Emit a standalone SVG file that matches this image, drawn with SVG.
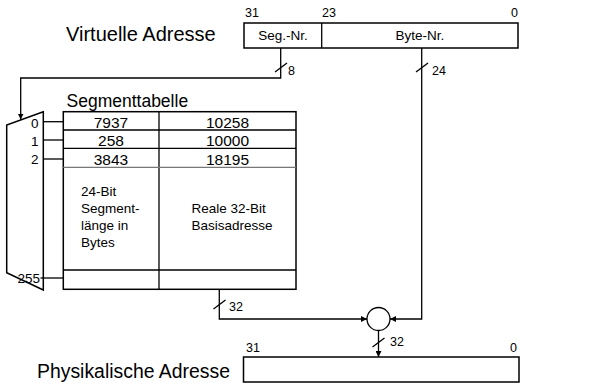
<svg xmlns="http://www.w3.org/2000/svg" width="611" height="385" viewBox="0 0 611 385">
<defs>
<style>
text{font-family:"Liberation Sans",Arial,sans-serif;fill:#000}
.big{font-size:20px}
.mid{font-size:17.5px}
.num{font-size:15.5px}
.sm{font-size:13.5px}
.bit{font-size:12.5px}
.box{fill:#fff;stroke:#000;stroke-width:1.5}
.ln{fill:none;stroke:#000;stroke-width:1.3}
</style>
<marker id="ah" viewBox="0 0 10 10" refX="10" refY="5" markerWidth="6" markerHeight="6" markerUnits="userSpaceOnUse" orient="auto">
<path d="M0,0 L10,5 L0,10 z" fill="#000"/>
</marker>
</defs>
<rect width="611" height="385" fill="#fff"/>

<g id="virt">
<text class="big" x="66" y="41">Virtuelle Adresse</text>
<rect class="box" x="244" y="23" width="274" height="25"/>
<line class="ln" x1="321.7" y1="23" x2="321.7" y2="48"/>
<text class="bit" x="245" y="17">31</text>
<text class="bit" x="322" y="17">23</text>
<text class="bit" x="518" y="17" text-anchor="end">0</text>
<text class="sm" x="283" y="40" text-anchor="middle">Seg.-Nr.</text>
<text class="sm" x="420" y="40" text-anchor="middle">Byte-Nr.</text>
</g>

<g id="mux">
<polygon class="box" points="43.3,111.7 6.7,125 6.7,272.7 43.3,290"/>
<text class="sm" x="38.5" y="127.7" text-anchor="end">0</text>
<text class="sm" x="38.5" y="145.7" text-anchor="end">1</text>
<text class="sm" x="38.5" y="163.5" text-anchor="end">2</text>
<text class="sm" x="40" y="282.5" text-anchor="end">255</text>
</g>

<g id="table">
<text class="mid" x="66.5" y="106.5">Segmenttabelle</text>
<rect class="box" x="63.3" y="111.7" width="232.7" height="177.6"/>
<line class="ln" x1="159" y1="111.7" x2="159" y2="289.3"/>
<line class="ln" x1="63.3" y1="130" x2="296" y2="130"/>
<line class="ln" x1="63.3" y1="148.3" x2="296" y2="148.3"/>
<line x1="63.3" y1="167.3" x2="296" y2="167.3" stroke="#777" stroke-width="1.3"/>
<line class="ln" x1="63.3" y1="270" x2="296" y2="270"/>
<text class="num" x="111" y="127.5" text-anchor="middle">7937</text>
<text class="num" x="227.5" y="127.5" text-anchor="middle">10258</text>
<text class="num" x="111" y="146" text-anchor="middle">258</text>
<text class="num" x="227.5" y="146" text-anchor="middle">10000</text>
<text class="num" x="111" y="165" text-anchor="middle">3843</text>
<text class="num" x="227.5" y="165" text-anchor="middle">18195</text>
<text class="sm" x="81" y="196">24-Bit</text>
<text class="sm" x="81" y="213">Segment-</text>
<text class="sm" x="81" y="230">länge in</text>
<text class="sm" x="81" y="247">Bytes</text>
<text class="sm" x="191.5" y="213">Reale 32-Bit</text>
<text class="sm" x="191.5" y="230">Basisadresse</text>
</g>

<g id="adder">
<circle cx="378.5" cy="319" r="11.5" fill="#fff" stroke="#000" stroke-width="1.3"/>
</g>

<g id="phys">
<text x="37" y="378" style="font-size:19.4px">Physikalische Adresse</text>
<rect class="box" x="243.5" y="357" width="275.5" height="25"/>
<text class="bit" x="246" y="352">31</text>
<text class="bit" x="517" y="352" text-anchor="end">0</text>
</g>

<g id="connectors">
<polyline class="ln" points="280.7,48 280.7,78 20.7,78 20.7,119.5" marker-end="url(#ah)"/>
<polyline class="ln" points="421.7,48 421.7,319 390,319" marker-end="url(#ah)"/>
<polyline class="ln" points="219.3,289.3 219.3,319 367,319" marker-end="url(#ah)"/>
<line class="ln" x1="378.5" y1="330.5" x2="378.5" y2="357" marker-end="url(#ah)"/>
<line class="ln" x1="43.3" y1="121.7" x2="63.3" y2="121.7"/>
<line class="ln" x1="43.3" y1="140" x2="63.3" y2="140"/>
<line class="ln" x1="43.3" y1="159" x2="63.3" y2="159"/>
<line class="ln" x1="40.5" y1="278" x2="63.3" y2="278"/>
<line class="ln" x1="275" y1="72" x2="287" y2="63"/>
<line class="ln" x1="416" y1="72" x2="428" y2="63"/>
<line class="ln" x1="213.5" y1="309" x2="225.5" y2="300"/>
<line class="ln" x1="372.5" y1="347" x2="384.5" y2="338"/>
<text class="bit" x="288" y="75">8</text>
<text class="bit" x="432" y="75">24</text>
<text class="bit" x="229" y="311">32</text>
<text class="bit" x="390" y="346">32</text>
</g>
</svg>
